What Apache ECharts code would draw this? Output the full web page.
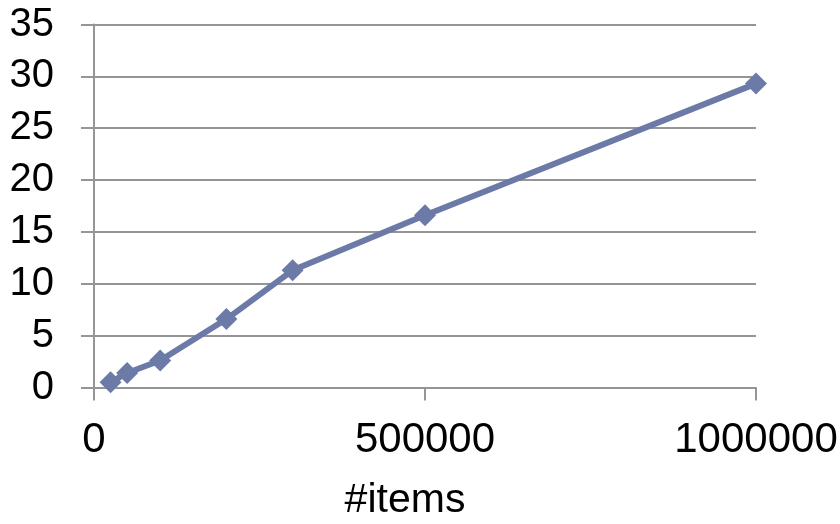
<!DOCTYPE html>
<html>
<head>
<meta charset="utf-8">
<style>
  html, body { margin: 0; padding: 0; background: #ffffff; }
  #chart { width: 840px; height: 524px; }
</style>
<script src="https://cdn.jsdelivr.net/npm/echarts@6/dist/echarts.min.js"></script>
</head>
<body>
<div id="chart"></div>
<script>
// Number of items processed and the measured time for each run
const itemCounts = [25000, 50000, 100000, 200000, 300000, 500000, 1000000];
const timeValues = [0.5, 1.4, 2.6, 6.6, 11.3, 16.6, 29.3];
const xAxisName = '#items';

const points = itemCounts.map((n, i) => [n, timeValues[i]]);

const gridColor = '#959595';
const lineColor = '#6c7aa7';
const fontFamily = '"Liberation Sans", Arial, sans-serif';

const chart = echarts.init(document.getElementById('chart'), null, { renderer: 'canvas' });
chart.setOption({
  animation: false,
  backgroundColor: '#ffffff',
  grid: { left: 94, right: 84, top: 24.5, bottom: 136.5, containLabel: false, outerBoundsMode: 'none' },
  xAxis: {
    type: 'value',
    min: 0,
    max: 1000000,
    interval: 500000,
    name: xAxisName,
    nameLocation: 'middle',
    nameGap: 93,
    nameTextStyle: { fontFamily, fontSize: 41, color: '#000', padding: [0, 40, 0, 0] },
    axisLine: { show: true, lineStyle: { color: gridColor, width: 2 } },
    axisTick: { show: true, inside: false, length: 13, lineStyle: { color: gridColor, width: 2 } },
    splitLine: { show: false },
    axisLabel: { fontFamily, fontSize: 42, color: '#000', margin: 32, formatter: v => String(v) }
  },
  yAxis: {
    type: 'value',
    min: 0,
    max: 35,
    interval: 5,
    axisLine: { show: true, lineStyle: { color: gridColor, width: 2 } },
    axisTick: { show: true, inside: false, length: 13, lineStyle: { color: gridColor, width: 2 } },
    splitLine: { show: true, lineStyle: { color: gridColor, width: 2 } },
    axisLabel: { fontFamily, fontSize: 40, color: '#000', margin: 40, formatter: v => String(v) }
  },
  series: [{
    type: 'line',
    data: points,
    symbol: 'diamond',
    symbolSize: 22,
    showAllSymbol: true,
    lineStyle: { color: lineColor, width: 6 },
    itemStyle: { color: lineColor, borderWidth: 0 },
    emphasis: { disabled: true }
  }]
});
</script>
</body>
</html>
